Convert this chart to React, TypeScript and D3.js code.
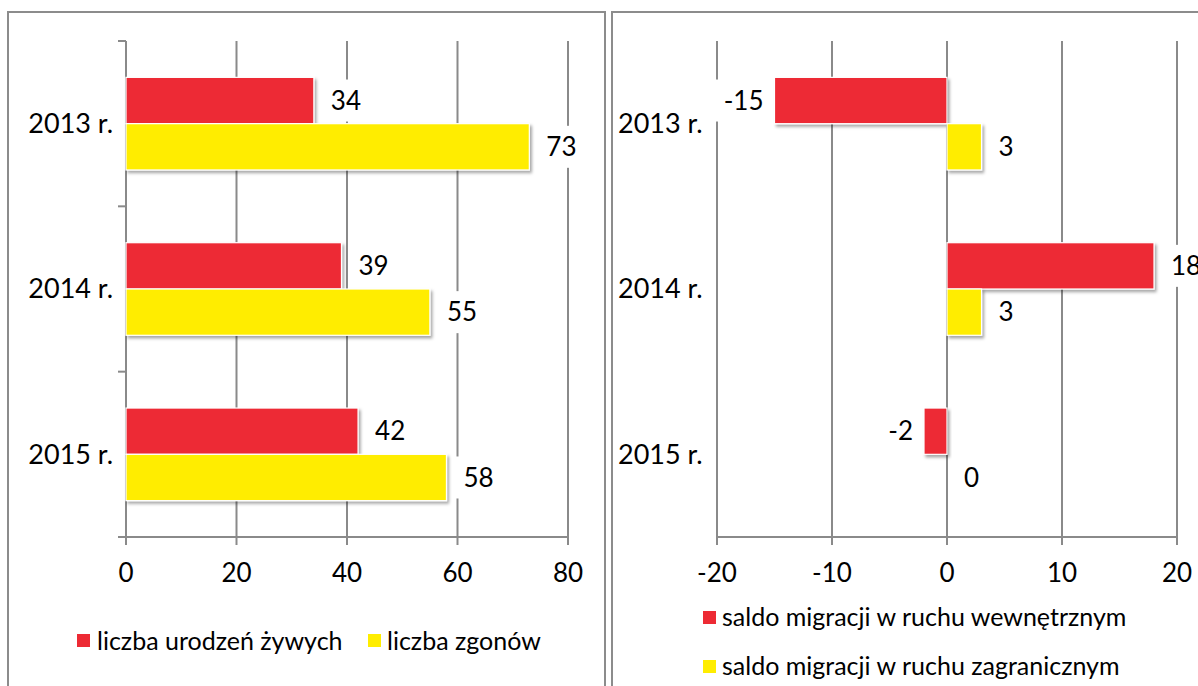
import React from "react";
import * as d3 from "d3";

const years = ["2013 r.", "2014 r.", "2015 r."];
const births = [34, 39, 42];
const deaths = [73, 55, 58];
const migInternal = [-15, 18, -2];
const migForeign = [3, 3, 0];
const leftTicks = [0, 20, 40, 60, 80];
const rightTicks = [-20, -10, 0, 10, 20];
const leftLegend = ["liczba urodzeń żywych", "liczba zgonów"];
const rightLegend = ["saldo migracji w ruchu wewnętrznym", "saldo migracji w ruchu zagranicznym"];

const RED = "#ED2A34";
const YELLOW = "#FFED00";
const GRID = "#8a8a8a";
const FONT = "Lato, 'Open Sans', sans-serif";
const FS = 26;
const LFS = 25;

type PanelProps = {
  x: d3.ScaleLinear<number, number>;
  ticks: number[];
  series: number[][];
  leftAxis: boolean;
};

function Panel({ x, ticks, series, leftAxis }: PanelProps) {
  const y = d3.scaleBand<string>().domain(years).range([41, 537]);
  const bw = y.bandwidth();
  const barH = bw * 0.28;
  const colors = [RED, YELLOW];
  const [x0, x1] = x.range();
  const labels: JSX.Element[] = [];
  const bars: JSX.Element[] = [];
  series.forEach((vals, si) => {
    vals.forEach((v, i) => {
      const c = (y(years[i]) as number) + bw / 2;
      const top = si === 0 ? c - barH : c;
      const a = x(Math.min(0, v));
      const b = x(Math.max(0, v));
      if (b - a > 0.5) {
        bars.push(
          <rect key={`b${si}-${i}`} x={a} y={top} width={b - a} height={barH}
            fill={colors[si]} stroke="#fff" strokeWidth={1.2} filter="url(#shadow)" />
        );
      }
      const txt = String(v);
      const tw = txt.length * 13.5;
      const neg = v < 0;
      const tx = neg ? a - 11 : b + 17;
      const ty = top + barH / 2;
      const bx = neg ? tx - tw - 8 : tx - 8;
      labels.push(
        <g key={`l${si}-${i}`}>
          <rect x={bx} y={ty - 21} width={tw + 16} height={42} fill="#fff" />
          <text x={tx} y={ty} dy="0.35em" textAnchor={neg ? "end" : "start"}
            fontFamily={FONT} fontSize={FS} fill="#000">{txt}</text>
        </g>
      );
    });
  });
  return (
    <g>
      {ticks.map((t) => (
        <line key={`g${t}`} x1={x(t)} x2={x(t)} y1={41} y2={537} stroke={GRID} strokeWidth={2} />
      ))}
      {leftAxis && (
        <g>
          {[0, 1, 2, 3].map((k) => (
            <line key={`yt${k}`} x1={x0 - 8} x2={x0} y1={41 + k * bw} y2={41 + k * bw} stroke={GRID} strokeWidth={2} />
          ))}
        </g>
      )}
      <line x1={x0} x2={x1} y1={537} y2={537} stroke={GRID} strokeWidth={2} />
      {ticks.map((t) => (
        <line key={`xt${t}`} x1={x(t)} x2={x(t)} y1={537} y2={545} stroke={GRID} strokeWidth={2} />
      ))}
      {labels}
      {bars}
      {ticks.map((t) => (
        <text key={`tl${t}`} x={x(t)} y={573} dy="0.35em" textAnchor="middle"
          fontFamily={FONT} fontSize={FS} fill="#000">{t}</text>
      ))}
    </g>
  );
}

export default function App() {
  const xl = d3.scaleLinear().domain([0, 80]).range([126, 568]);
  const xr = d3.scaleLinear().domain([-20, 20]).range([717, 1177]);
  const y = d3.scaleBand<string>().domain(years).range([41, 537]);
  const bw = y.bandwidth();
  return (
    <svg width={1198} height={686} style={{ position: "fixed", left: 0, top: 0, background: "#fff" }}>
      <defs>
        <filter id="shadow" x="-10%" y="-20%" width="130%" height="160%">
          <feDropShadow dx={2} dy={2.5} stdDeviation={1.6} floodColor="#000" floodOpacity={0.35} />
        </filter>
      </defs>
      <rect x={0} y={0} width={1198} height={686} fill="#fff" />
      <rect x={8} y={12} width={597} height={700} fill="none" stroke="#8c8c8c" strokeWidth={2} />
      <rect x={612} y={12} width={600} height={700} fill="none" stroke="#8c8c8c" strokeWidth={2} />

      <Panel x={xl} ticks={leftTicks} series={[births, deaths]} leftAxis={true} />
      <Panel x={xr} ticks={rightTicks} series={[migInternal, migForeign]} leftAxis={false} />

      {years.map((yr) => (
        <text key={`yl${yr}`} x={113} y={(y(yr) as number) + bw / 2} dy="0.35em" textAnchor="end"
          fontFamily={FONT} fontSize={27} fill="#000">{yr}</text>
      ))}
      {years.map((yr) => (
        <text key={`yr${yr}`} x={618} y={(y(yr) as number) + bw / 2} dy="0.35em" textAnchor="start"
          fontFamily={FONT} fontSize={27} fill="#000">{yr}</text>
      ))}

      <rect x={77} y={634} width={13} height={13} fill={RED} />
      <text x={97} y={641} dy="0.35em" fontFamily={FONT} fontSize={LFS} fill="#000">{leftLegend[0]}</text>
      <rect x={368} y={634} width={13} height={13} fill={YELLOW} />
      <text x={387} y={641} dy="0.35em" fontFamily={FONT} fontSize={LFS} fill="#000">{leftLegend[1]}</text>

      <rect x={703} y={611} width={13} height={13} fill={RED} />
      <text x={722} y={617} dy="0.35em" fontFamily={FONT} fontSize={LFS} fill="#000">{rightLegend[0]}</text>
      <rect x={703} y={660} width={13} height={13} fill={YELLOW} />
      <text x={722} y={666} dy="0.35em" fontFamily={FONT} fontSize={LFS} fill="#000">{rightLegend[1]}</text>
    </svg>
  );
}
